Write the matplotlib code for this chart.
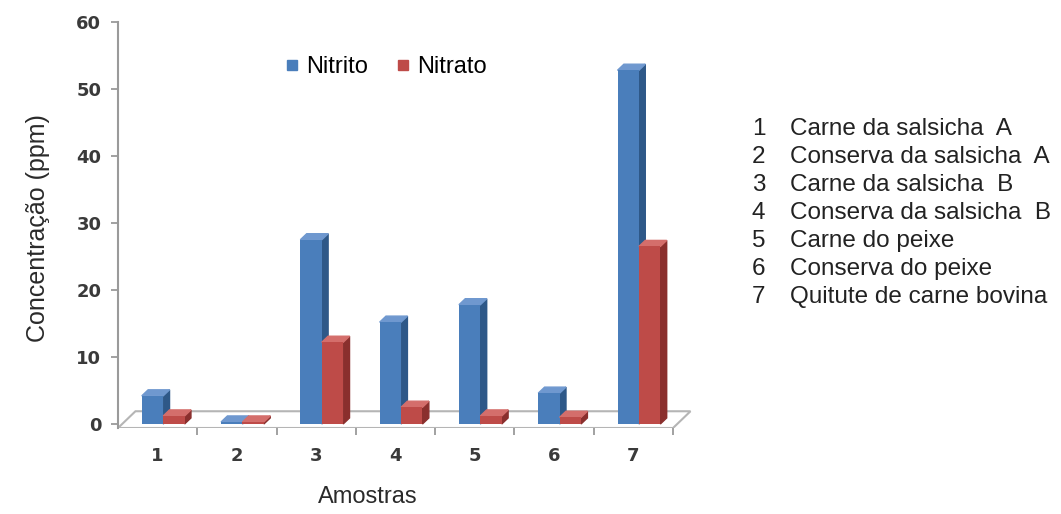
import matplotlib.pyplot as plt
from matplotlib.patches import Polygon
from matplotlib.lines import Line2D

# amostras e concentracoes (ppm)
amostras = ["1", "2", "3", "4", "5", "6", "7"]
nitrito = [4.2, 0.3, 27.5, 15.2, 17.8, 4.6, 52.8]
nitrato = [1.2, 0.3, 12.2, 2.5, 1.2, 1.0, 26.5]
descricao = [
    "Carne da salsicha  A",
    "Conserva da salsicha  A",
    "Carne da salsicha  B",
    "Conserva da salsicha  B",
    "Carne do peixe",
    "Conserva do peixe",
    "Quitute de carne bovina",
]

# cores (frente, lado, topo)
azul = ("#4a7ebb", "#2e5888", "#6f98cf")
vermelho = ("#be4b48", "#8a2f2d", "#d46e6b")

fig = plt.figure(figsize=(10.61, 5.14), dpi=100)
ax = fig.add_axes([118 / 1061, 86 / 514, 582 / 1061, 406 / 514])
ax.set_xlim(-0.5, 6.84)
ax.set_ylim(-0.6, 60)

largura = 0.27
dx, dy = 0.08, 0.9


def barra_3d(x0, h, cores, z):
    # face frontal pelo ax.bar, lado e topo como poligonos
    ax.bar(x0, h, width=largura, align="edge", color=cores[0], zorder=z + 1)
    x1 = x0 + largura
    lado = [(x1, 0), (x1 + dx, dy), (x1 + dx, h + dy), (x1, h)]
    topo = [(x0, h), (x1, h), (x1 + dx, h + dy), (x0 + dx, h + dy)]
    ax.add_patch(Polygon(lado, closed=True, color=cores[1], zorder=z))
    ax.add_patch(Polygon(topo, closed=True, color=cores[2], zorder=z))


for i in range(len(amostras)):
    barra_3d(i - 0.20, nitrito[i], azul, 2)
    barra_3d(i - 0.20 + largura, nitrato[i], vermelho, 4)

# piso do grafico
piso = [(-0.5, -0.6), (6.5, -0.6), (6.72, 1.9), (-0.28, 1.9)]
ax.add_patch(Polygon(piso, closed=True, fill=False, edgecolor="#b5b5b5",
                     linewidth=1.5, zorder=1))

for s in ["top", "right", "bottom"]:
    ax.spines[s].set_visible(False)
ax.spines["left"].set_color("#9a9a9a")
ax.spines["left"].set_linewidth(1.5)

ax.set_yticks([0, 10, 20, 30, 40, 50, 60])
ax.tick_params(axis="y", colors="#9a9a9a", length=5, width=1.3, pad=7,
               labelcolor="#3a3a3a", labelsize=13)

ax.set_xticks([k + 0.5 for k in range(7)])
ax.set_xticklabels([])
ax.set_xticks(range(7), minor=True)
ax.set_xticklabels(amostras, minor=True)
ax.tick_params(axis="x", which="major", colors="#9a9a9a", length=5, width=1.3)
ax.tick_params(axis="x", which="minor", length=0, pad=14,
               labelcolor="#3a3a3a", labelsize=13)
for lbl in ax.get_yticklabels() + ax.get_xticklabels(minor=True):
    lbl.set_fontweight("bold")

fig.text(38 / 1061, 1 - 228 / 514, "Concentração (ppm)", rotation=90,
         ha="center", va="center", fontsize=18, family="Liberation Sans",
         color="#2a2a2a")
fig.text(368 / 1061, 1 - 497 / 514, "Amostras", ha="center", va="center",
         fontsize=17, family="Liberation Sans", color="#2a2a2a")

# legenda
handles = [
    Line2D([], [], marker="s", linestyle="", markersize=7, color=azul[0]),
    Line2D([], [], marker="s", linestyle="", markersize=7, color=vermelho[0]),
]
fig.legend(handles, ["Nitrito", "Nitrato"], ncol=2, frameon=False,
           loc="center", bbox_to_anchor=(386 / 1061, 1 - 67 / 514),
           prop={"family": "Liberation Sans", "size": 17},
           handlelength=0.6, handletextpad=0.3, columnspacing=1.2)

# lista das amostras
for i, txt in enumerate(descricao):
    y = 1 - (129 + 28 * i) / 514
    fig.text(752 / 1061, y, amostras[i], ha="left", va="center", fontsize=17.5,
             family="Liberation Sans", color="#222222")
    fig.text(790 / 1061, y, txt, ha="left", va="center", fontsize=17.5,
             family="Liberation Sans", color="#222222")

fig.savefig("out.png", dpi=100)
